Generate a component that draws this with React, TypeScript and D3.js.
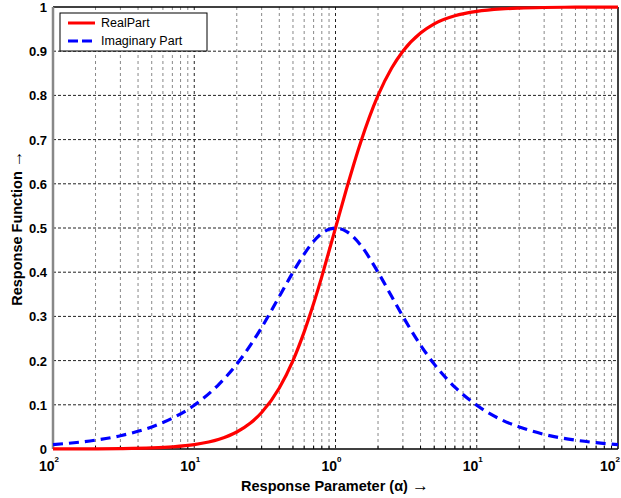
import React from 'react';
import * as d3 from 'd3';

// values
const alpha = [0.01, 0.02, 0.03, 0.05, 0.07, 0.1, 0.15, 0.2, 0.25, 0.3, 0.4, 0.5, 0.6, 0.7, 0.8, 0.9, 1,
  1.2, 1.5, 2, 2.5, 3, 4, 5, 7, 10, 15, 20, 30, 50, 70, 100];
const realPart = [0.0001, 0.0004, 0.0009, 0.0025, 0.0049, 0.0099, 0.022, 0.0385, 0.0588, 0.0826, 0.138, 0.2,
  0.265, 0.329, 0.39, 0.448, 0.5, 0.59, 0.692, 0.8, 0.862, 0.9, 0.941, 0.962, 0.98, 0.99, 0.9956, 0.9975,
  0.9989, 0.9996, 0.9998, 0.9999];
const imagPart = [0.01, 0.02, 0.03, 0.0499, 0.0697, 0.099, 0.147, 0.192, 0.235, 0.275, 0.345, 0.4, 0.441,
  0.47, 0.488, 0.497, 0.5, 0.492, 0.462, 0.4, 0.345, 0.3, 0.235, 0.192, 0.14, 0.099, 0.066, 0.05, 0.033,
  0.02, 0.0143, 0.01];
const xDecades = [0.01, 0.1, 1, 10, 100];
const xExpLabels = ['2', '1', '0', '1', '2'];
const yTicks = [0, 0.1, 0.2, 0.3, 0.4, 0.5, 0.6, 0.7, 0.8, 0.9, 1];
const legendNames = ['RealPart', 'Imaginary Part'];

const W = 621;
const H = 498;
const m = { left: 53, right: 618, top: 7, bottom: 449 };
const font = 'Liberation Sans, Arial, Helvetica, sans-serif';

const App = () => {
  const x = d3.scaleLog().domain([0.01, 100]).range([m.left, m.right]);
  const y = d3.scaleLinear().domain([0, 1]).range([m.bottom, m.top]);

  const minors: number[] = [];
  xDecades.slice(0, -1).forEach(d => {
    for (let k = 2; k <= 9; k++) minors.push(d * k);
  });

  const line = d3.line<number>()
    .x((_, i) => x(alpha[i]))
    .y(d => y(d))
    .curve(d3.curveMonotoneX);

  return (
    <svg width={W} height={H} style={{ position: 'absolute', left: 0, top: 0, background: 'white' }}>
      <rect x={0} y={0} width={W} height={H} fill="white" />
      {/* grid */}
      {minors.map(v => (
        <line key={'mn' + v} x1={x(v)} x2={x(v)} y1={m.top} y2={m.bottom}
          stroke="#888" strokeWidth={1} strokeDasharray="3,3" />
      ))}
      {xDecades.slice(1, -1).map(v => (
        <line key={'mj' + v} x1={x(v)} x2={x(v)} y1={m.top} y2={m.bottom}
          stroke="#222" strokeWidth={1} strokeDasharray="3,3" />
      ))}
      {yTicks.slice(1, -1).map(v => (
        <line key={'h' + v} x1={m.left} x2={m.right} y1={y(v)} y2={y(v)}
          stroke="#222" strokeWidth={1} strokeDasharray="3,2" />
      ))}
      {/* minor ticks on bottom axis */}
      {minors.map(v => (
        <line key={'t' + v} x1={x(v)} x2={x(v)} y1={m.bottom} y2={m.bottom - 3} stroke="#000" />
      ))}
      {/* frame */}
      <line x1={m.left} x2={m.right} y1={m.top} y2={m.top} stroke="#000" strokeWidth={1.5} />
      <line x1={m.right} x2={m.right} y1={m.top} y2={m.bottom} stroke="#000" strokeWidth={1.5} />
      <line x1={m.left} x2={m.right} y1={m.bottom} y2={m.bottom} stroke="#000" strokeWidth={1.5} />
      <line x1={m.left} x2={m.left} y1={m.top} y2={m.bottom} stroke="#888" strokeWidth={2.5} />

      {/* curves */}
      <path d={line(realPart) || ''} fill="none" stroke="#ff0000" strokeWidth={3.2} />
      <path d={line(imagPart) || ''} fill="none" stroke="#0000ff" strokeWidth={3.2} strokeDasharray="10,6" />

      {/* y tick labels */}
      {yTicks.map(v => (
        <text key={'yl' + v} x={47} y={y(v) + 5} textAnchor="end" fontFamily={font} fontWeight="bold"
          fontSize={13}>{v === 0 || v === 1 ? String(v) : v.toFixed(1)}</text>
      ))}
      {/* x tick labels */}
      {xDecades.map((v, i) => {
        const last = i === xDecades.length - 1;
        return (
          <text key={'xl' + v} x={last ? 620 : x(v) - 4} y={471} textAnchor={last ? 'end' : 'middle'}
            fontFamily={font} fontWeight="bold" fontSize={14}>
            10<tspan dy={-9} fontSize={8}>{xExpLabels[i]}</tspan>
          </text>
        );
      })}
      <text x={335} y={491} textAnchor="middle" fontFamily={font} fontWeight="bold" fontSize={14.5}>
        Response Parameter (α) <tspan fontSize={17}>→</tspan>
      </text>
      <text transform={`translate(22,${(m.top + m.bottom) / 2}) rotate(-90)`} textAnchor="middle"
        fontFamily={font} fontWeight="bold" fontSize={14.5}>Response Function <tspan fontSize={17}>→</tspan></text>

      {/* legend */}
      <rect x={60} y={13} width={147} height={38} fill="white" stroke="#000" strokeWidth={1} />
      {legendNames.map((n, i) => (
        <g key={n}>
          <line x1={68} x2={95} y1={23 + i * 18} y2={23 + i * 18}
            stroke={i === 0 ? '#ff0000' : '#0000ff'} strokeWidth={3}
            strokeDasharray={i === 0 ? undefined : '10,4'} />
          <text x={101} y={27 + i * 18} fontFamily={font} fontSize={12.5}>{n}</text>
        </g>
      ))}
    </svg>
  );
};

export default App;
